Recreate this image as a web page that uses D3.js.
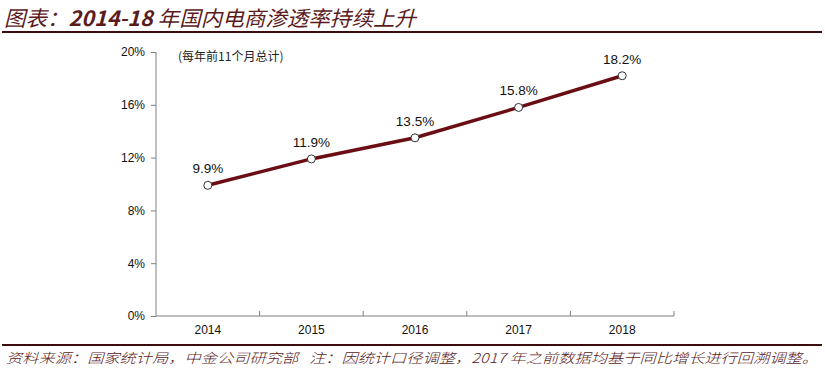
<!DOCTYPE html>
<html>
<head>
<meta charset="utf-8">
<style>
  body { margin: 0; background: #fff; }
  svg { display: block; }
</style>
</head>
<body>
<div id="container"></div>
<script src="https://cdn.jsdelivr.net/npm/d3@7"></script>
<script>
// chart data
const years = ["2014", "2015", "2016", "2017", "2018"];
const penetration = [9.9, 11.9, 13.5, 15.8, 18.2];
const yTicks = [0, 4, 8, 12, 16, 20];

const titleParts = ["图表：", "2014-18", " 年国内电商渗透率持续上升"];
const noteText = "(每年前11个月总计)";
const sourceText = "资料来源：国家统计局，中金公司研究部\u00a0\u00a0\u00a0注：因统计口径调整，2017 年之前数据均基于同比增长进行回溯调整。";

const W = 825, H = 375;
const svg = d3.select("#container").append("svg")
    .attr("width", W)
    .attr("height", H);

const brown = "#5b1a1c";
const lineColor = "#6b0d14";
const axisColor = "#808080";

// title
const title = svg.append("text")
    .attr("x", 4)
    .attr("y", 26)
    .attr("font-family", "'Noto Sans CJK SC', sans-serif")
    .attr("font-style", "italic")
    .attr("font-size", "21px")
    .attr("fill", brown)
    .attr("textLength", 412)
    .attr("lengthAdjust", "spacingAndGlyphs");
title.selectAll("tspan")
    .data(titleParts)
    .join("tspan")
    .attr("font-weight", (d, i) => i == 1 ? "bold" : "normal")
    .text(d => d);

svg.append("line")
    .attr("x1", 2).attr("x2", 822)
    .attr("y1", 32).attr("y2", 32)
    .attr("stroke", "#3a0c0e")
    .attr("stroke-width", 2);

// footer
svg.append("line")
    .attr("x1", 2).attr("x2", 822)
    .attr("y1", 345).attr("y2", 345)
    .attr("stroke", "#3a0c0e")
    .attr("stroke-width", 2);

svg.append("text")
    .attr("x", 6)
    .attr("y", 363)
    .attr("font-family", "'Noto Sans CJK SC', sans-serif")
    .attr("font-style", "italic")
    .attr("font-weight", 300)
    .attr("font-size", "13.5px")
    .attr("fill", brown)
    .attr("textLength", 812)
    .attr("lengthAdjust", "spacingAndGlyphs")
    .text(sourceText);

// plot area
const x0 = 156, x1 = 674, yTop = 52, yBot = 316;

const x = d3.scaleBand()
    .domain(years)
    .range([x0, x1]);

const y = d3.scaleLinear()
    .domain([0, 20])
    .range([yBot, yTop]);

const font = "Arial, 'Liberation Sans', sans-serif";

// y axis
const yAxis = svg.append("g")
    .attr("transform", `translate(${x0},0)`)
    .call(d3.axisLeft(y).tickValues(yTicks).tickSize(5).tickPadding(6)
        .tickFormat(d => d + "%"));
yAxis.select(".domain").attr("stroke", axisColor).attr("d", `M0,${yTop}V${yBot}`);
yAxis.selectAll(".tick line").attr("stroke", axisColor);
yAxis.selectAll(".tick text")
    .attr("font-family", font)
    .attr("font-size", "12px")
    .attr("fill", "#111");

// x axis
const xAxis = svg.append("g")
    .attr("transform", `translate(0,${yBot})`)
    .call(d3.axisBottom(x).tickSize(0).tickPadding(9));
xAxis.select(".domain").attr("stroke", axisColor).attr("d", `M${x0},0H${x1}`);
xAxis.selectAll(".tick text")
    .attr("font-family", font)
    .attr("font-size", "12px")
    .attr("fill", "#111");

// category separator ticks (pointing up)
xAxis.selectAll(".sep")
    .data(years.slice(1).concat(["end"]))
    .join("line")
    .attr("class", "sep")
    .attr("x1", (d, i) => x0 + x.step() * (i + 1))
    .attr("x2", (d, i) => x0 + x.step() * (i + 1))
    .attr("y1", 0)
    .attr("y2", -5)
    .attr("stroke", axisColor);

// note
svg.append("text")
    .attr("x", 178)
    .attr("y", 61)
    .attr("font-family", "'Noto Sans CJK SC', sans-serif")
    .attr("font-size", "12px")
    .attr("fill", "#222")
    .text(noteText);

// line
const cx = d => x(d) + x.bandwidth() / 2;
const pts = years.map((d, i) => [cx(d), y(penetration[i])]);

svg.append("path")
    .datum(pts)
    .attr("d", d3.line())
    .attr("fill", "none")
    .attr("stroke", lineColor)
    .attr("stroke-width", 3.5);

svg.selectAll(".dot")
    .data(pts)
    .join("circle")
    .attr("class", "dot")
    .attr("cx", d => d[0])
    .attr("cy", d => d[1])
    .attr("r", 4)
    .attr("fill", "#fff")
    .attr("stroke", "#333")
    .attr("stroke-width", 1);

svg.selectAll(".lbl")
    .data(pts)
    .join("text")
    .attr("class", "lbl")
    .attr("x", d => d[0])
    .attr("y", d => d[1] - 12)
    .attr("text-anchor", "middle")
    .attr("font-family", font)
    .attr("font-size", "13.5px")
    .attr("fill", "#111")
    .text((d, i) => penetration[i].toFixed(1) + "%");
</script>
</body>
</html>
